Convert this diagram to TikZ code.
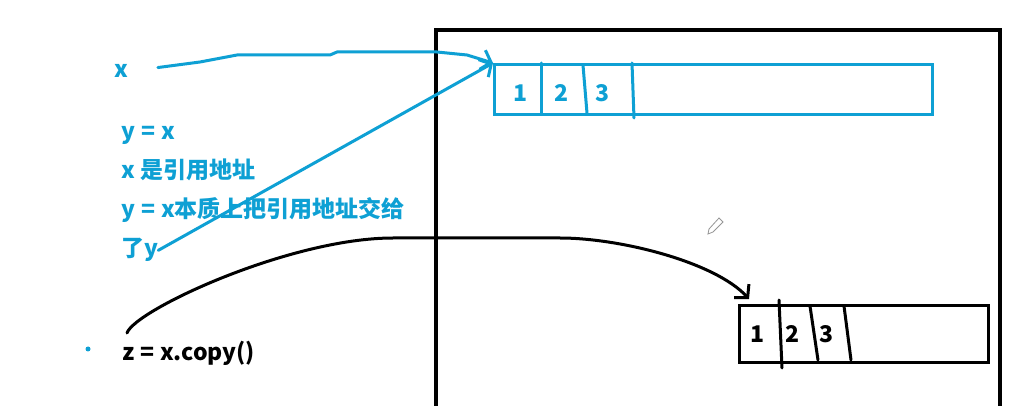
\documentclass[tikz,border=0pt]{standalone}
\usepackage{fontspec}
\setmainfont{Noto Sans CJK SC}
\usetikzlibrary{arrows.meta}
\definecolor{bluec}{RGB}{14,160,212}
\definecolor{pencilc}{RGB}{150,150,150}
\newcommand{\gap}{\hspace{6pt}}
\begin{document}
\begin{tikzpicture}[x=1pt,y=-1pt,
  txt/.style={font=\fontsize{23}{27}\selectfont\bfseries, inner sep=0pt, anchor=base west},
  num/.style={font=\fontsize{23}{27}\selectfont\bfseries, inner sep=0pt},
  bline/.style={draw=bluec, line width=3pt, line cap=round, line join=round},
  kline/.style={draw=black, line width=3pt, line cap=round, line join=round},
  barb/.style={-{Straight Barb[length=9pt,width=20pt,line width=3pt]}},
  cell/.style={line width=3pt, inner sep=0pt, anchor=north west}]
\useasboundingbox[fill=white] (0,0) rectangle (1013,406);

% outer frame (memory)
\draw[line width=3.5pt, black] (436,406) -- (436,30) -- (1000,30) -- (1000,406);

% left-hand texts
\node[txt, text=bluec] (xl) at (114,78) {x};
\node[txt, text=bluec] (t1) at (121,140) {y\gap=\gap x};
\node[txt, text=bluec] (t2) at (121,179) {x 是引用地址};
\node[txt, text=bluec] (t3) at (121,218) {y\gap=\gap x本质上把引用地址交给};
\node[txt, text=bluec] (ly) at (121,257) {了y};
\node[txt, text=black] (zl) at (122,360) {z\gap=\gap x.copy()};
\fill[bluec] (88,349) circle (2.5);

% blue list
\node[cell, draw=bluec, minimum width=438pt, minimum height=50pt] (arr) at (493,63) {};
\draw[bline] (541,63) -- (541,113);
\draw[bline] (583,65) -- (587,113);
\draw[bline] (632,63) -- (634,118);
\node[num, text=bluec] (b1) at (520,93) {1};
\node[num, text=bluec] (b2) at (561,93) {2};
\node[num, text=bluec] (b3) at (602,93) {3};

% black list (copy)
\node[cell, draw=black, minimum width=249pt, minimum height=57pt] (karr) at (738,304) {};
\draw[kline] (779,300) -- (782,368);
\draw[kline] (810,306) -- (818,360);
\draw[kline] (844,306) -- (851,360);
\node[num] (k1) at (757,334) {1};
\node[num] (k2) at (792,334) {2};
\node[num] (k3) at (826,334) {3};

% connectors
\draw[bline, barb, shorten <=30pt] (xl.east) -- (200,62) -- (237,55) -- (330,55) -- (337,52) -- (437,52) -- (467,55) -- (arr.north west);
\draw[bline, barb] (ly.east) -- (arr.north west);
\coordinate (ks) at (127,333);
\coordinate (kt) at (749,299);
\draw[kline, barb] (ks) .. controls (135,310) and (290,238) .. (393,238) -- (560,238) .. controls (620,238) and (715,262) .. (kt);

% pencil cursor
\draw[pencilc, line width=0.8pt, fill=white] (719,218) -- (723,222) -- (713,232) -- (708,234) -- (709,229) -- cycle;
\end{tikzpicture}
\end{document}
